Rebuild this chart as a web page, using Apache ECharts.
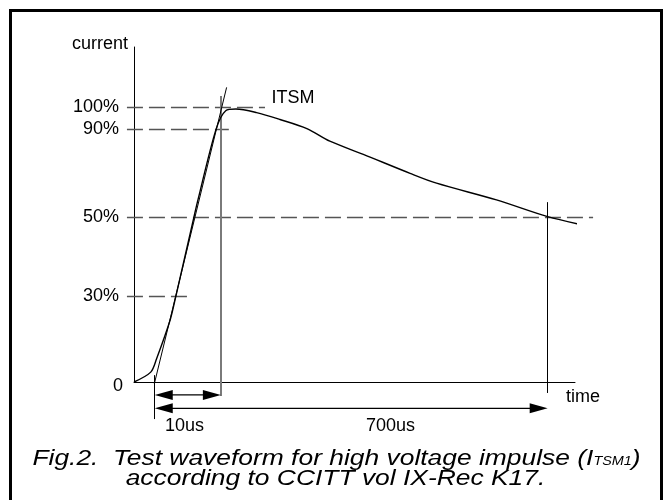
<!DOCTYPE html>
<html><head><meta charset="utf-8">
<script src="https://cdn.jsdelivr.net/npm/echarts@6/dist/echarts.min.js"></script>
<style>html,body{margin:0;padding:0;background:#fff}#c{width:665px;height:500px}</style>
</head><body><div id="c"></div>
<script>
// Schematic figure (not to scale): time in drawing units (0..100 = axis length),
// current in drawing units where the 100% level = 100.
const curveTime    = [0, 3.8, 5.1, 8.2, 9.5, 13.6, 14.5, 18.6, 20.8, 23.1, 27.8, 33.1, 39.2, 44.4, 52.0, 62.6, 68.6, 82.2, 93.8, 102.6];
const curveCurrent = [0, 3.6, 8.4, 22.6, 31.3, 60.1, 66.3, 92.0, 98.8, 99.4, 98.1, 95.6, 92.3, 87.7, 82.9, 76.0, 72.4, 66.3, 60.2, 56.9];

const tangentTime    = [4.6, 21.0];
const tangentCurrent = [-0.7, 107.3];

// level labels and the heights at which the sketch draws them
const levelLabels  = ['0', '30%', '50%', '90%', '100%'];
const levelHeights = [0, 31.3, 60.1, 92.0, 100];
const guideStart   = -1.6;
const guideEnd     = [null, 12.9, 104.1, 21.5, 29.7];

// time markers
const markerNames  = ['start', 'rise', 'halfDecay'];
const markerTime   = [4.7, 19.7, 93.8];
const markerLow    = [-13.5, -5.1, -4.0];
const markerHigh   = [2.5, 104.2, 65.5];

// dimension arrows: [from, to, height]
const arrowLabels = ['10us', '700us'];
const arrowFrom   = [4.7, 4.7];
const arrowTo     = [19.7, 93.8];
const arrowHeight = [-4.7, -9.6];

const FONT = "'Liberation Sans', Arial, sans-serif";

const chart = echarts.init(document.getElementById('c'), null, {renderer: 'canvas'});

const curveData = curveTime.map((t, i) => [t, curveCurrent[i]]);
const tangentData = tangentTime.map((t, i) => [t, tangentCurrent[i]]);

const guideLines = [];
levelHeights.forEach((h, i) => {
  if (guideEnd[i] != null) guideLines.push({coords: [[guideStart, h], [guideEnd[i], h]]});
});

const markerLines = markerTime.map((t, i) => ({
  coords: [[t, markerLow[i]], [t, markerHigh[i]]],
  lineStyle: markerNames[i] === 'rise' ? {color: '#7a7a7a', width: 2} : {color: '#000', width: 1}
}));

const arrowData = arrowFrom.map((f, i) => [f, arrowTo[i], arrowHeight[i]]);

chart.setOption({
  animation: false,
  backgroundColor: '#fff',
  grid: {left: 134, top: 47, width: 441, height: 335, containLabel: false},
  xAxis: {
    type: 'value', min: 0, max: 100,
    axisLine: {show: true, onZero: false, lineStyle: {color: '#000', width: 1}},
    axisTick: {show: false}, axisLabel: {show: false}, splitLine: {show: false}
  },
  yAxis: {
    type: 'value', min: 0, max: 122,
    axisLine: {show: true, onZero: false, lineStyle: {color: '#000', width: 1}},
    axisTick: {show: false}, splitLine: {show: false},
    axisLabel: {
      show: true, customValues: levelHeights, margin: 15,
      color: '#000', fontSize: 18, fontFamily: FONT,
      formatter: v => {
        const i = levelHeights.indexOf(v);
        if (i < 0) return '';
        return v === 0 ? '{z|' + levelLabels[i] + '}' : levelLabels[i];
      },
      rich: {z: {fontSize: 18, fontFamily: FONT, color: '#000', padding: [9, -4, 0, 0]}}
    }
  },
  series: [
    {
      name: 'levels', type: 'lines', coordinateSystem: 'cartesian2d', clip: false,
      lineStyle: {color: '#555', width: 1.3, type: [16, 6], opacity: 1},
      data: guideLines, silent: true
    },
    {
      name: 'markers', type: 'lines', coordinateSystem: 'cartesian2d', clip: false,
      lineStyle: {color: '#000', width: 1, opacity: 1},
      data: markerLines, silent: true
    },
    {
      name: 'tangent', type: 'line', data: tangentData, showSymbol: false, symbol: 'none', clip: false,
      lineStyle: {color: '#000', width: 1}
    },
    {
      name: 'waveform', type: 'line', data: curveData, showSymbol: false, symbol: 'none', clip: false,
      smooth: 0.3, lineStyle: {color: '#000', width: 1.4}
    },
    {
      name: 'arrows', type: 'custom', coordinateSystem: 'cartesian2d', clip: false,
      encode: {x: [0, 1], y: 2},
      data: arrowData,
      renderItem: (params, api) => {
        const y = api.value(2);
        const p0 = api.coord([api.value(0), y]);
        const p1 = api.coord([api.value(1), y]);
        const L = 18, H = 5;
        return {type: 'group', children: [
          {type: 'line', shape: {x1: p0[0] + L - 1, y1: p0[1], x2: p1[0] - L + 1, y2: p1[1]},
           style: {stroke: '#000', lineWidth: 1.2}},
          {type: 'polygon', shape: {points: [[p0[0], p0[1]], [p0[0] + L, p0[1] - H], [p0[0] + L, p0[1] + H]]},
           style: {fill: '#000'}},
          {type: 'polygon', shape: {points: [[p1[0], p1[1]], [p1[0] - L, p1[1] - H], [p1[0] - L, p1[1] + H]]},
           style: {fill: '#000'}}
        ]};
      }
    }
  ],
  graphic: [
    {type: 'rect', z: 0, shape: {x: 10.5, y: 10.5, width: 651, height: 500},
     style: {fill: 'none', stroke: '#000', lineWidth: 3}},
    {type: 'text', x: 128, y: 44.5, style: {text: 'current', fontSize: 18, fontFamily: FONT, fill: '#000', align: 'right', verticalAlign: 'middle'}},
    {type: 'text', x: 566, y: 397.5, style: {text: 'time', fontSize: 18, fontFamily: FONT, fill: '#000', align: 'left', verticalAlign: 'middle'}},
    {type: 'text', x: 271.5, y: 97.7, style: {text: 'ITSM', fontSize: 18, fontFamily: FONT, fill: '#000', align: 'left', verticalAlign: 'middle'}},
    {type: 'text', x: 165, y: 426, style: {text: arrowLabels[0], fontSize: 18, fontFamily: FONT, fill: '#000', align: 'left', verticalAlign: 'middle'}},
    {type: 'text', x: 366, y: 426, style: {text: arrowLabels[1], fontSize: 18, fontFamily: FONT, fill: '#000', align: 'left', verticalAlign: 'middle'}},
    {type: 'text', x: 336.5, y: 459, scaleX: 1.2,
     style: {text: '{m|Fig.2.  Test waveform for high voltage impulse (I}{s|TSM1}{m|)}',
       fontSize: 22, fontStyle: 'italic', fontFamily: FONT, fill: '#000', align: 'center', verticalAlign: 'middle',
       rich: {m: {fontSize: 22, fontStyle: 'italic', fontFamily: FONT, fill: '#000'},
              s: {fontSize: 12, fontStyle: 'italic', fontFamily: FONT, fill: '#000', padding: [5, 0, 0, 0]}}}},
    {type: 'text', x: 335.5, y: 478.5, scaleX: 1.2,
     style: {text: 'according to CCITT vol IX-Rec K17.', fontSize: 22, fontStyle: 'italic', fontFamily: FONT,
       fill: '#000', align: 'center', verticalAlign: 'middle'}}
  ]
});
</script></body></html>
